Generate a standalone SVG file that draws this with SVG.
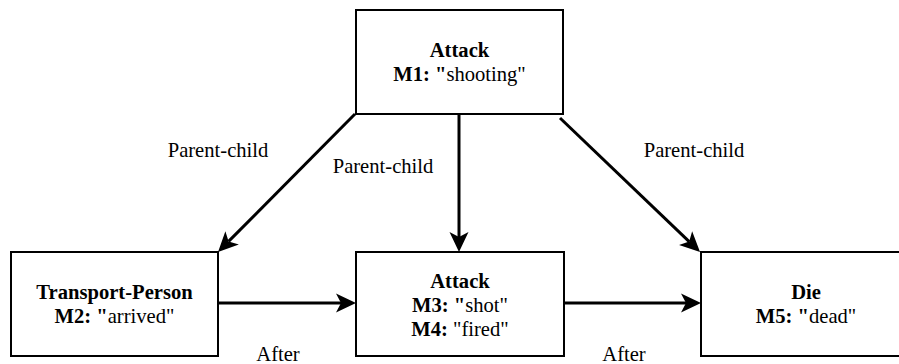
<svg xmlns="http://www.w3.org/2000/svg" width="899" height="364" viewBox="0 0 899 364">
<style>
.box{fill:#fff;stroke:#000;stroke-width:2}
text{font-family:'Liberation Serif','Times New Roman',serif;font-size:20.6px;fill:#000;text-anchor:middle}
.b{font-weight:bold}
.edge{stroke:#000;stroke-width:3;fill:none}
</style>
<defs>
<marker id="arr" markerUnits="userSpaceOnUse" orient="auto" refX="0" refY="0" markerWidth="30" markerHeight="30" viewBox="-10 -15 30 30" overflow="visible">
<path d="M15,0 L-5,-9.5 L0,0 L-5,9.5 Z" fill="#000"/>
</marker>
</defs>
<rect width="899" height="364" fill="#fff"/>
<g id="edges">
<line class="edge" x1="355" y1="114" x2="228.6" y2="241.4" marker-end="url(#arr)"/>
<line class="edge" x1="459" y1="114" x2="459" y2="237" marker-end="url(#arr)"/>
<line class="edge" x1="560" y1="118" x2="689.2" y2="241.6" marker-end="url(#arr)"/>
<line class="edge" x1="218" y1="303" x2="341" y2="303" marker-end="url(#arr)"/>
<line class="edge" x1="564" y1="303" x2="686" y2="303" marker-end="url(#arr)"/>
<text x="218" y="157">Parent-child</text>
<text x="383" y="173">Parent-child</text>
<text x="694" y="157">Parent-child</text>
<text x="278" y="361">After</text>
<text x="624" y="361">After</text>
</g>
<g id="n1">
<rect class="box" x="356" y="10" width="207" height="104"/>
<text class="b" x="459.5" y="57">Attack</text>
<text x="459.5" y="81"><tspan class="b">M1: "</tspan>shooting"</text>
</g>
<g id="n2">
<rect class="box" x="11" y="252" width="207" height="104"/>
<text class="b" x="114.5" y="299">Transport-Person</text>
<text x="114.5" y="323"><tspan class="b">M2: "</tspan>arrived"</text>
</g>
<g id="n3">
<rect class="box" x="356" y="252" width="208" height="104"/>
<text class="b" x="460" y="288">Attack</text>
<text x="460" y="312"><tspan class="b">M3: "</tspan>shot"</text>
<text x="460" y="336"><tspan class="b">M4: </tspan>"fired"</text>
</g>
<g id="n4">
<rect class="box" x="701" y="252" width="207" height="104"/>
<text class="b" x="806" y="299">Die</text>
<text x="806" y="323"><tspan class="b">M5: "</tspan>dead"</text>
</g>
</svg>
